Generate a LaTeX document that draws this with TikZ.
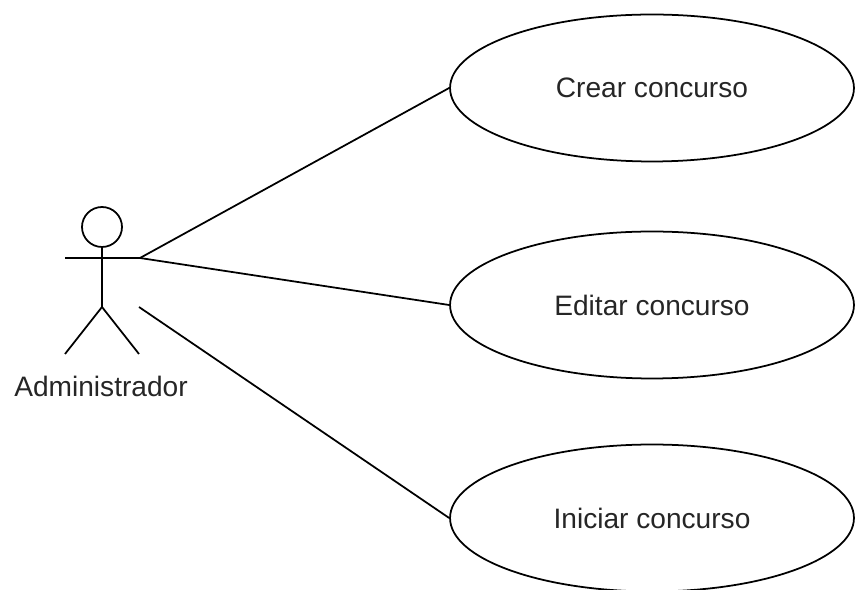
\documentclass[tikz,border=0pt]{standalone}
\usepackage{fontspec}
\setmainfont{Liberation Sans}
\usetikzlibrary{shapes.geometric}

\begin{document}
\begin{tikzpicture}[x=0.02cm, y=-0.02cm, line width=1pt,
    usecase/.style={ellipse, draw, minimum width=8.08cm, minimum height=2.94cm, font=\fontsize{16}{19}\selectfont, text=black!85},
    assoc/.style={draw, line width=1pt}]
    % Frame
    \useasboundingbox (0,0) rectangle (855,590);

    % Actor
    \draw (102,227) circle (0.4cm);
    \draw (102,247) -- (102,307);
    \draw (65,258) -- (140,258);
    \draw (65,354) -- (102,307) -- (139,354);
    \node[font=\fontsize{16}{19}\selectfont, text=black!85] (admin) at (101,386) {Administrador};
    \coordinate (hand) at (140,258);
    \coordinate (hip) at (139,307);

    % Use cases
    \node[usecase] (crear) at (652,88) {Crear concurso};
    \node[usecase] (editar) at (652,305) {Editar concurso};
    \node[usecase] (iniciar) at (652,518) {Iniciar concurso};

    % Associations
    \draw[assoc] (hand) -- (crear.west);
    \draw[assoc] (hand) -- (editar.west);
    \draw[assoc] (hip) -- (iniciar.west);
\end{tikzpicture}
\end{document}
